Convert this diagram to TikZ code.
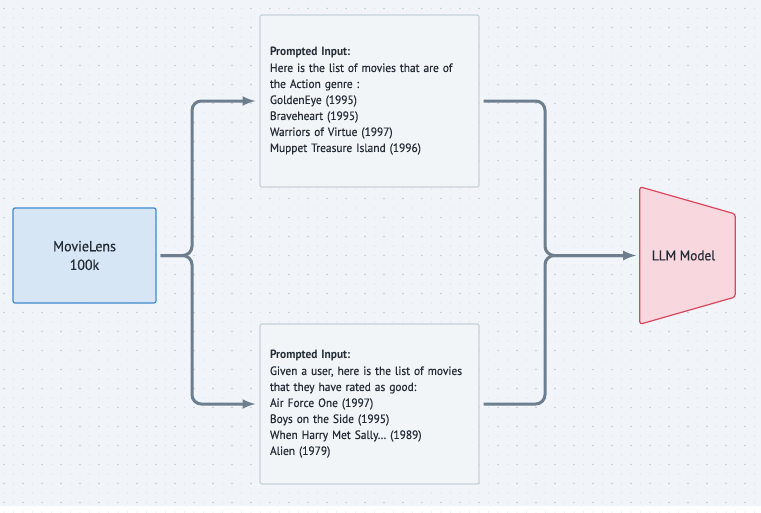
\documentclass[tikz,border=0pt]{standalone}
\usepackage{fontspec}
\setmainfont{PT Sans}[FakeStretch=0.95, UprightFeatures={FakeBold=0.5}]
\usetikzlibrary{arrows,backgrounds}

\definecolor{bgcol}{HTML}{F1F4F8}
\definecolor{dotcol}{HTML}{C6CDD8}
\definecolor{faintdot}{HTML}{DDE2E9}
\definecolor{inkcol}{HTML}{242D37}
\definecolor{linkcol}{HTML}{6D7F8E}
\definecolor{dataline}{HTML}{3D8AD3}
\definecolor{datafill}{HTML}{D7E6F5}
\definecolor{promptline}{HTML}{C9D1DA}
\definecolor{promptfill}{HTML}{F2F5F8}
\definecolor{llmline}{HTML}{D9475E}
\definecolor{llmfill}{HTML}{F8D8DE}

\begin{document}
\begin{tikzpicture}[x=0.75pt, y=-0.75pt, >=latex, node distance=227.25pt]
			\tikzstyle{dataset} = [draw=dataline, fill=datafill, line width=0.9pt, rounded corners=1.5pt, minimum width=107.25pt, minimum height=71.25pt, align=center, text=inkcol, font=\fontsize{11}{14}\selectfont]
			\tikzstyle{prompt} = [draw=promptline, fill=promptfill, line width=0.9pt, rounded corners=1.5pt, text width=149.25pt, inner sep=7.5pt, align=left, text=inkcol, font=\fontsize{9}{12}\selectfont]
			\tikzstyle{model} = [minimum width=71.25pt, minimum height=102.75pt, inner sep=0pt, text=inkcol, font=\fontsize{10.5}{14}\selectfont]
			\tikzstyle{link} = [->, draw=linkcol, line width=2.25pt, rounded corners=7pt, shorten <=3pt, shorten >=3pt]
			% canvas with dot grid
			\begin{scope}[on background layer]
			\fill[bgcol] (0,0) rectangle (761,506);
			\foreach \i in {0,...,79} \foreach \j in {0,...,53}
				\fill[faintdot] (4+9.5*\i, 8.5+9.5*\j) circle (0.7);
			\foreach \i in {0,...,39} \foreach \j in {0,...,26}
				\fill[dotcol] (4+19*\i, 8.5+19*\j) circle (0.8);
			\end{scope}
			\useasboundingbox (0,0) rectangle (761,506);
			\path
			node[dataset] at (84.5,255.5) (movielens) {MovieLens\\100k}
			node[prompt, minimum height=129pt] at (369.5,101) (genre) {\textbf{Prompted Input:}\\Here is the list of movies that are of the Action genre :\\GoldenEye (1995)\\Braveheart (1995)\\Warriors of Virtue (1997)\\Muppet Treasure Island (1996)}
			node[prompt, minimum height=120pt, below of=genre] (rated) {\textbf{Prompted Input:}\\Given a user, here is the list of movies that they have rated as good:\\Air Force One (1997)\\Boys on the Side (1995)\\When Harry Met Sally… (1989)\\Alien (1979)}
			node[model] at (687.5,255.5) (llm) {\hspace*{-6pt}LLM Model}
			;
			\begin{scope}[on background layer]
			\draw[draw=llmline, fill=llmfill, line width=0.9pt, rounded corners=2pt]
				(llm.north west) -- ([yshift=41.5*0.75pt]llm.east) -- ([yshift=-41.5*0.75pt]llm.east) -- (llm.south west) -- cycle;
			\end{scope}
			\coordinate (split) at (192,255.5);
			\coordinate (merge) at (545,255.5);
			\draw[link] (movielens.east) -- (split) |- (genre.west);
			\draw[link] (movielens.east) -- (split) |- (rated.west);
			\draw[link] (genre.east) -| (merge) -- (llm.west);
			\draw[link] (rated.east) -| (merge) -- (llm.west);
\end{tikzpicture}
\end{document}
